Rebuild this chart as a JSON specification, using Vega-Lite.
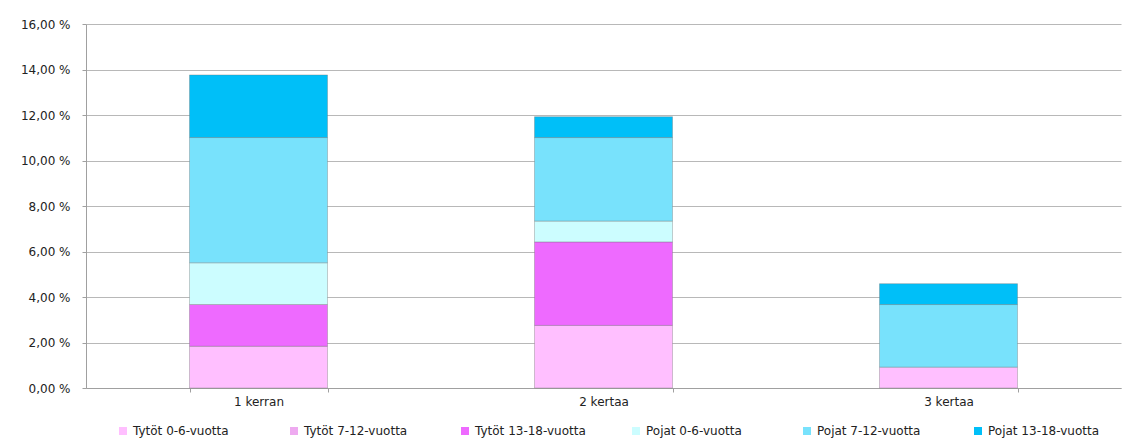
{
  "$schema": "https://vega.github.io/schema/vega-lite/v6.json",
  "width": 1035,
  "height": 364,
  "autosize": {"type": "none"},
  "padding": {"left": 86, "top": 24, "right": 7, "bottom": 55},
  "background": "white",
  "config": {"view": {"stroke": null}, "font": "DejaVu Sans"},
  "data": {
    "values": [
      {"kerrat": "1 kerran", "ryhma": "Tytöt 0-6-vuotta", "osuus": 1.835},
      {"kerrat": "1 kerran", "ryhma": "Tytöt 13-18-vuotta", "osuus": 1.835},
      {"kerrat": "1 kerran", "ryhma": "Pojat 0-6-vuotta", "osuus": 1.835},
      {"kerrat": "1 kerran", "ryhma": "Pojat 7-12-vuotta", "osuus": 5.505},
      {"kerrat": "1 kerran", "ryhma": "Pojat 13-18-vuotta", "osuus": 2.752},
      {"kerrat": "2 kertaa", "ryhma": "Tytöt 0-6-vuotta", "osuus": 2.752},
      {"kerrat": "2 kertaa", "ryhma": "Tytöt 13-18-vuotta", "osuus": 3.67},
      {"kerrat": "2 kertaa", "ryhma": "Pojat 0-6-vuotta", "osuus": 0.917},
      {"kerrat": "2 kertaa", "ryhma": "Pojat 7-12-vuotta", "osuus": 3.67},
      {"kerrat": "2 kertaa", "ryhma": "Pojat 13-18-vuotta", "osuus": 0.917},
      {"kerrat": "3 kertaa", "ryhma": "Tytöt 0-6-vuotta", "osuus": 0.917},
      {"kerrat": "3 kertaa", "ryhma": "Pojat 7-12-vuotta", "osuus": 2.752},
      {"kerrat": "3 kertaa", "ryhma": "Pojat 13-18-vuotta", "osuus": 0.917}
    ]
  },
  "transform": [
    {"calculate": "indexof(['Tytöt 0-6-vuotta', 'Tytöt 7-12-vuotta', 'Tytöt 13-18-vuotta', 'Pojat 0-6-vuotta', 'Pojat 7-12-vuotta', 'Pojat 13-18-vuotta'], datum.ryhma)", "as": "jarjestys"}
  ],
  "mark": {"type": "bar", "stroke": "#6f6f6f", "strokeOpacity": 0.35, "strokeWidth": 1},
  "encoding": {
    "x": {
      "field": "kerrat",
      "type": "nominal",
      "sort": ["1 kerran", "2 kertaa", "3 kertaa"],
      "scale": {"paddingInner": 0.6, "paddingOuter": 0.3},
      "axis": {
        "title": null,
        "labelAngle": 0,
        "tickBand": "extent",
        "tickSize": 4,
        "tickColor": "#a0a0a0",
        "domainColor": "#a0a0a0",
        "labelFontSize": 12,
        "labelColor": "#222222",
        "labelPadding": 4,
        "grid": false
      }
    },
    "y": {
      "field": "osuus",
      "type": "quantitative",
      "stack": "zero",
      "scale": {"domain": [0, 16], "nice": false},
      "axis": {
        "title": null,
        "values": [0, 2, 4, 6, 8, 10, 12, 14, 16],
        "labelExpr": "replace(format(datum.value, '.2f'), '.', ',') + ' %'",
        "gridColor": "#b8b8b8",
        "domainColor": "#a0a0a0",
        "tickColor": "#a0a0a0",
        "tickSize": 4,
        "labelPadding": 12,
        "labelFontSize": 12,
        "labelColor": "#222222"
      }
    },
    "order": {"field": "jarjestys", "type": "quantitative", "sort": "ascending"},
    "color": {
      "field": "ryhma",
      "type": "nominal",
      "sort": ["Tytöt 0-6-vuotta", "Tytöt 7-12-vuotta", "Tytöt 13-18-vuotta", "Pojat 0-6-vuotta", "Pojat 7-12-vuotta", "Pojat 13-18-vuotta"],
      "scale": {
        "domain": ["Tytöt 0-6-vuotta", "Tytöt 7-12-vuotta", "Tytöt 13-18-vuotta", "Pojat 0-6-vuotta", "Pojat 7-12-vuotta", "Pojat 13-18-vuotta"],
        "range": ["#ffbfff", "#eeaaf0", "#ee6aff", "#ccfdff", "#78e2fc", "#00bff8"]
      },
      "legend": {
        "title": null,
        "orient": "none",
        "legendX": 31,
        "legendY": 401,
        "direction": "horizontal",
        "columns": 6,
        "gridAlign": "all",
        "symbolType": "square",
        "symbolSize": 64,
        "symbolStrokeWidth": 0,
        "labelFontSize": 12,
        "labelColor": "#222222",
        "labelOffset": 4,
        "columnPadding": 43
      }
    }
  }
}
